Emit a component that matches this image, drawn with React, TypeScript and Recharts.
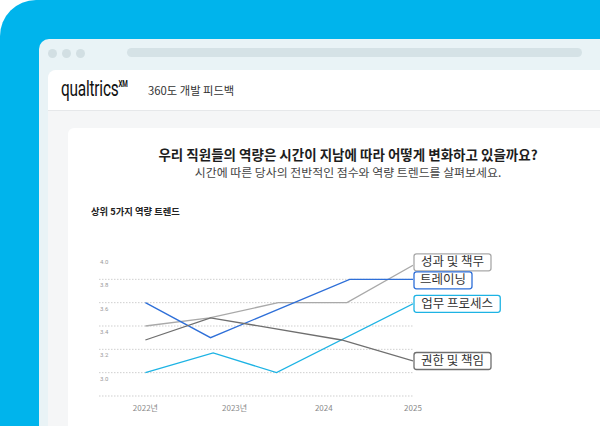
import React from 'react';
import { LineChart, Line, XAxis, YAxis, CartesianGrid } from 'recharts';

// years (x) and scores (y)
const yearTicks = [2022, 2023, 2024, 2025];
const yearLabels = ['2022년', '2023년', '2024', '2025'];
const scoreTicks = [2.8, 3.0, 3.2, 3.4, 3.6, 3.8, 4.0];
const gridScores = [2.8, 3.0, 3.2, 3.4, 3.6, 3.8];

const performanceYears = [2022, 2022.72, 2023.49, 2024.26, 2025];
const performanceScores = [3.4, 3.47, 3.6, 3.6, 3.92];

const trainingYears = [2022, 2022.73, 2024.29, 2025];
const trainingScores = [3.6, 3.3, 3.8, 3.8];

const processYears = [2022, 2022.76, 2023.47, 2025];
const processScores = [3.0, 3.17, 3.0, 3.59];

const authorityYears = [2022, 2022.73, 2024.2, 2025];
const authorityScores = [3.28, 3.47, 3.28, 3.1];

const toRows = (years: number[], scores: number[]) =>
  years.map((year, i) => ({ year, score: scores[i] }));

const series = [
  { name: '성과 및 책무', data: toRows(performanceYears, performanceScores), color: '#a9a9a9', boxShift: -3 },
  { name: '트레이닝', data: toRows(trainingYears, trainingScores), color: '#2e6fd8', boxShift: 1 },
  { name: '업무 프로세스', data: toRows(processYears, processScores), color: '#1db3e4', boxShift: 0 },
  { name: '권한 및 책임', data: toRows(authorityYears, authorityScores), color: '#6f6f6f', boxShift: 0 },
];

const KR = '"Noto Sans CJK KR", "Noto Sans", sans-serif';

const textWidth = (s: string, size: number) =>
  Array.from(s).reduce((w, ch) => w + (ch === ' ' ? 0.26 : /[0-9a-zA-Z.]/.test(ch) ? 0.56 : 1) * size, 0);

const makeEndLabel = (name: string, color: string, last: number, shift: number) => (props: any) => {
  if (props.index !== last) return null;
  const x = Number(props.x);
  const y = Number(props.y) + shift;
  const w = textWidth(name, 12.5) + 8;
  const h = 17;
  return (
    <g>
      <rect x={x + 1} y={y - h / 2} width={w} height={h} rx={2.5} fill="#fff" stroke={color} strokeWidth={1.3} />
      <text x={x + 1 + w / 2} y={y + 0.5} textAnchor="middle" dominantBaseline="middle" fontSize={12.5} fill="#333" fontFamily={KR}>
        {name}
      </text>
    </g>
  );
};

const renderScoreTick = (props: any) => {
  const { x, y, payload } = props;
  const v = Number(payload?.value);
  if (v === 2.8) return <g />;
  return (
    <text x={Number(x) + 1} y={Number(y) + 8} fontSize={6} fill="#9a9a9a" textAnchor="start" fontFamily="Roboto, sans-serif">
      {v.toFixed(1)}
    </text>
  );
};

const abs = (s: React.CSSProperties): React.CSSProperties => ({ position: 'absolute', ...s });

export default function App() {
  return (
    <div style={abs({ left: 0, top: 0, width: 600, height: 426, overflow: 'hidden', background: '#fff', fontFamily: KR })}>
      <div style={abs({ left: 0, top: 0, width: 600, height: 426, background: '#00b4ec', borderTopLeftRadius: 36 })} />
      <div style={abs({ left: 39, top: 39, width: 561, height: 387, background: '#e9f3f6', borderTopLeftRadius: 10 })} />
      {[52, 66, 80].map((cx) => (
        <div key={cx} style={abs({ left: cx - 4.5, top: 48.5, width: 9, height: 9, borderRadius: 5, background: '#d2dfe3' })} />
      ))}
      <div style={abs({ left: 127, top: 48, width: 455, height: 9, borderRadius: 5, background: '#d5e2e6' })} />
      <div style={abs({ left: 48, top: 70, width: 552, height: 356, background: '#f5f6f7', borderTopLeftRadius: 8 })} />
      <div style={abs({ left: 48, top: 70, width: 552, height: 40, background: '#fff', borderTopLeftRadius: 8, borderBottom: '1px solid #e6e8ea' })} />
      <div style={abs({ left: 61, top: 76, fontFamily: 'Roboto, sans-serif', fontSize: 22, color: '#111', transform: 'scaleX(0.7)', transformOrigin: 'left top', whiteSpace: 'nowrap', letterSpacing: -0.3 })}>
        qualtrics<sup style={{ fontSize: 9, fontWeight: 700, verticalAlign: 'top', position: 'relative', top: 3 }}>XM</sup>
      </div>
      <div style={abs({ left: 148, top: 82, fontSize: 11.3, color: '#333', whiteSpace: 'nowrap' })}>360도 개발 피드백</div>
      <div style={abs({ left: 68, top: 128, width: 532, height: 298, background: '#fff', borderTopLeftRadius: 6 })} />
      <div style={abs({ left: 68, width: 560, top: 144, textAlign: 'center', fontSize: 13.5, fontWeight: 700, color: '#1d1d1d', whiteSpace: 'nowrap' })}>
        우리 직원들의 역량은 시간이 지남에 따라 어떻게 변화하고 있을까요?
      </div>
      <div style={abs({ left: 68, width: 560, top: 163, textAlign: 'center', fontSize: 11.9, color: '#444', whiteSpace: 'nowrap' })}>
        시간에 따른 당사의 전반적인 점수와 역량 트렌드를 살펴보세요.
      </div>
      <div style={abs({ left: 91, top: 204, fontSize: 9.3, fontWeight: 700, color: '#222', whiteSpace: 'nowrap' })}>상위 5가지 역량 트렌드</div>

      <LineChart
        width={600}
        height={426}
        margin={{ top: 256, right: 187, bottom: 0, left: 98 }}
        style={{ position: 'absolute', left: 0, top: 0 }}
      >
        <CartesianGrid vertical={false} horizontalValues={gridScores} stroke="#cfcfcf" strokeDasharray="1.5 1.5" />
        <XAxis
          dataKey="year"
          type="number"
          domain={[2021.48, 2025]}
          ticks={yearTicks}
          allowDataOverflow
          axisLine={false}
          tickLine={false}
          height={30}
          tickMargin={3}
          tick={{ fontSize: 8, fill: '#8a8a8a', fontFamily: KR }}
          tickFormatter={(v: number) => yearLabels[yearTicks.indexOf(v)]}
        />
        <YAxis
          type="number"
          domain={[2.8, 4.0]}
          ticks={scoreTicks}
          width={1}
          axisLine={false}
          tickLine={false}
          tickSize={0}
          tickMargin={0}
          tick={renderScoreTick}
        />
        {series.map((s) => (
          <Line
            key={s.name}
            data={s.data}
            dataKey="score"
            name={s.name}
            type="linear"
            stroke={s.color}
            strokeWidth={1.3}
            dot={false}
            activeDot={false}
            isAnimationActive={false}
            label={makeEndLabel(s.name, s.color, s.data.length - 1, s.boxShift)}
          />
        ))}
      </LineChart>
    </div>
  );
}
